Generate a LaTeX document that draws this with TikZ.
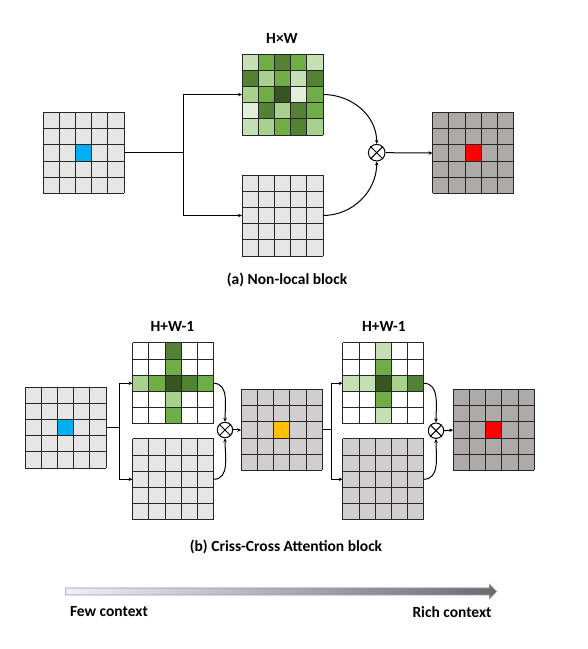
\documentclass[tikz,border=0pt]{standalone}
\usepackage{xcolor}
\usepackage{fontspec}
\setmainfont{Carlito}
\usetikzlibrary{calc,arrows.meta}
\definecolor{cellgray}{HTML}{E7E6E6}
\definecolor{cellmid}{HTML}{D0CECE}
\definecolor{celldark}{HTML}{AEAAAA}
\definecolor{qblue}{HTML}{00B0F0}
\definecolor{qorange}{HTML}{FFC000}
\definecolor{qred}{HTML}{FF0000}
\definecolor{ga}{HTML}{E2F0D9}
\definecolor{gb}{HTML}{C5E0B4}
\definecolor{gc}{HTML}{A9D18E}
\definecolor{gd}{HTML}{70AD47}
\definecolor{ge}{HTML}{548235}
\definecolor{gf}{HTML}{375623}
\definecolor{arrowedge}{HTML}{7F95C8}
\definecolor{arrowend}{HTML}{6E6A6A}

\tikzset{
  fmap/.style={minimum size=81pt, inner sep=0pt, outer sep=0pt},
  gridline/.style={line width=0.8pt, black!85},
  link/.style={line width=1pt, -{Stealth[length=4pt,width=3.5pt]}},
  prod/.style={circle, draw, line width=1pt, inner sep=0pt},
  lab/.style={font=\bfseries\fontsize{15.5}{18}\selectfont}
}

% cell lines of a 5x5 map
\newcommand{\gridlines}[1]{%
  \foreach \k in {0,...,5}{%
    \draw[gridline] ($(#1.north west)+(\k*16.2,0)$) -- ++(0,-81);
    \draw[gridline] ($(#1.north west)+(0,-\k*16.2)$) -- ++(81,0);
  }}
% one coloured cell: map, row, column, colour
\newcommand{\paintcell}[4]{%
  \fill[#4] ($(#1.north west)+({(#3-1)*16.2},{-(#2-1)*16.2})$) rectangle ++(16.2,-16.2);}
% the x inside a product node
\newcommand{\prodcross}[1]{%
  \draw[line width=1pt] (#1.north east) -- (#1.south west);
  \draw[line width=1pt] (#1.north west) -- (#1.south east);}

\begin{document}
\begin{tikzpicture}[x=1pt,y=1pt]
\useasboundingbox (0,0) rectangle (588,649);

% (a) non-local block
\node[fmap, fill=cellgray] (in1) at (83.5,496) {};
\node[fmap, fill=white] (hw) at (282.5,554.5) {};
\node[fmap, fill=cellgray] (val1) at (282.5,433.5) {};
\node[prod, minimum size=16.6pt] (ot1) at (376.7,496.3) {};
\node[fmap, fill=celldark] (out1) at (473,496) {};
\coordinate (sa) at (183,496);

\paintcell{in1}{3}{3}{qblue}
\paintcell{out1}{3}{3}{qred}
\foreach \row [count=\r] in {{gb,gd,ge,gd,gb},{ge,gc,gd,gb,ge},{gc,gd,gf,ga,gd},{ga,ge,gc,ge,gd},{gb,gc,gd,ge,gc}}
  \foreach \col [count=\c] in \row {\paintcell{hw}{\r}{\c}{\col}}
\foreach \m in {in1,hw,val1,out1} {\gridlines{\m}}
\prodcross{ot1}

\node[lab] (hwlab) at (282,610.5) {H×W};
\draw[line width=1pt] (in1.east) -- (sa);
\draw[link] (sa) |- (hw.west);
\draw[link] (sa) |- (val1.west);
\draw[link] (hw.east) to[out=0,in=90] (ot1.north);
\draw[link] (val1.east) to[out=0,in=-90] (ot1.south);
\draw[link] (ot1.east) -- (out1.west);
\node[lab] (capa) at (287,369) {(a) Non-local block};

% (b) criss-cross attention block
\node[fmap, fill=cellgray] (in2) at (65.5,221.5) {};
\node[fmap, fill=white] (cc1) at (173,265.7) {};
\node[fmap, fill=cellgray] (val2) at (173,169.7) {};
\node[prod, minimum size=15.4pt] (ot2) at (225,219) {};
\node[fmap, fill=cellmid] (mid) at (281.7,219) {};
\node[fmap, fill=white] (cc2) at (383.2,265.7) {};
\node[fmap, fill=cellmid] (val3) at (383.2,169.7) {};
\node[prod, minimum size=15.4pt] (ot3) at (436,218.3) {};
\node[fmap, fill=celldark] (out2) at (493.7,219) {};
\coordinate (sb) at (119.3,221.5);
\coordinate (sc) at (331.7,219);

\paintcell{in2}{3}{3}{qblue}
\paintcell{mid}{3}{3}{qorange}
\paintcell{out2}{3}{3}{qred}
\foreach \r/\c/\col in {1/3/ge,2/3/gd,4/3/gc,5/3/gd,3/1/gc,3/2/gd,3/3/gf,3/4/ge,3/5/gd}
  {\paintcell{cc1}{\r}{\c}{\col}}
\foreach \r/\c/\col in {1/3/gb,2/3/gd,4/3/gd,5/3/gb,3/1/gb,3/2/gb,3/3/gf,3/4/gc,3/5/ge}
  {\paintcell{cc2}{\r}{\c}{\col}}
\foreach \m in {in2,cc1,val2,mid,cc2,val3,out2} {\gridlines{\m}}
\prodcross{ot2}
\prodcross{ot3}

\node[lab] (cclab1) at (172.5,322.3) {H+W-1};
\node[lab] (cclab2) at (384,322.3) {H+W-1};
\draw[line width=1pt] (in2.east) -- (sb);
\draw[link] (sb) |- (cc1.west);
\draw[link] (sb) |- (val2.west);
\draw[link] (cc1.east) to[out=0,in=90] (ot2.north);
\draw[link] (val2.east) to[out=0,in=-90] (ot2.south);
\draw[link] (ot2.east) -- (mid.west);
\draw[line width=1pt] (mid.east) -- (sc);
\draw[link] (sc) |- (cc2.west);
\draw[link] (sc) |- (val3.west);
\draw[link] (cc2.east) to[out=0,in=90] (ot3.north);
\draw[link] (val3.east) to[out=0,in=-90] (ot3.south);
\draw[link] (ot3.east) -- (out2.west);
\node[lab] (capb) at (286,102.3) {(b) Criss-Cross Attention block};

% context arrow
\shadedraw[left color=cellgray!60, right color=arrowend, draw=arrowedge, line width=0.6pt]
  (65.7,54) -- (489.3,54) -- (489.3,50) -- (496.7,57.5) -- (489.3,65) -- (489.3,61) -- (65.7,61) -- cycle;
\node[lab] (few) at (109,37.3) {Few context};
\node[lab] (rich) at (452,37.3) {Rich context};
\end{tikzpicture}
\end{document}
